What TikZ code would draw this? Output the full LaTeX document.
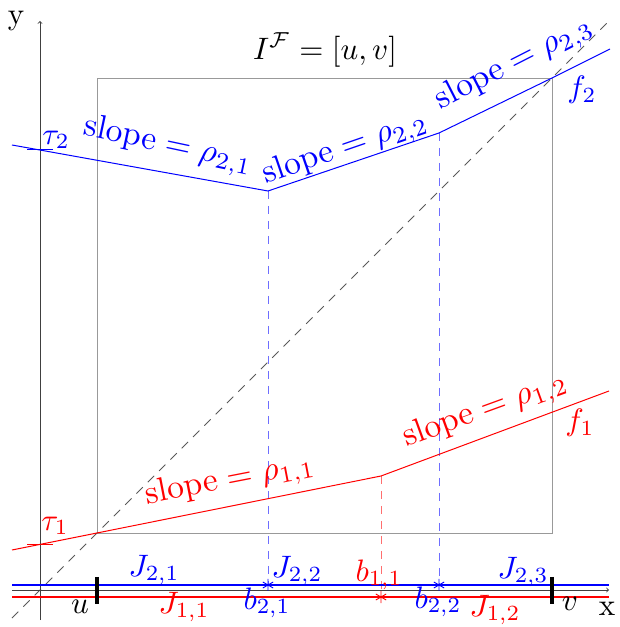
\documentclass[tikz,border=0pt]{standalone}
\usetikzlibrary{plotmarks}
\begin{document}
\begin{tikzpicture}[x=1pt,y=1pt,
  lbl/.style={scale=3.1, inner sep=0pt},
  slbl/.style={scale=3.35, inner sep=0pt},
  fline/.style={line width=1pt},
  drop/.style={line width=0.6pt, dash pattern=on 8pt off 7pt},
  star/.style={mark=asterisk, mark size=6pt, mark options={line width=0.9pt}},
  tickbar/.style={line width=4.5pt, black}]
\definecolor{dropblue}{RGB}{110,110,255}
\definecolor{dropred}{RGB}{255,110,110}
\useasboundingbox (-40,-37) rectangle (579,590);
% box and diagonal
\draw[gray!80, line width=0.9pt] (57,57) rectangle (512,512);
\draw[black!65, line width=0.8pt, dash pattern=on 9pt off 7pt] (-28,-28) -- (571,571);
% drops
\draw[drop, dropblue] (228,399) -- (228,5);
\draw[drop, dropblue] (399,457) -- (399,5);
\draw[drop, dropred] (341,114) -- (341,-7);
% axes
\draw[black!75, line width=0.9pt, ->] (-28,0) -- (569,0);
\draw[black!75, line width=0.9pt, ->] (0,-30) -- (0,569);
\node[lbl] (ylab) at (-24,569) {y};
\node[lbl] (xlab) at (567,-19) {x};
% interval lines
\draw[blue, line width=1.2pt] (-28,5) -- (569,5);
\draw[red, line width=1.2pt] (-28,-7) -- (569,-7);
\draw[tickbar] (57,13) -- (57,-14);
\draw[tickbar] (512,13) -- (512,-14);
\draw[blue] plot[star] coordinates {(228,5) (399,5)};
\draw[red] plot[star] coordinates {(341,-7)};
% functions
\draw[fline, red] (-28,40) -- (57,57) -- (341,114) -- (569,199);
\draw[fline, blue] (-28,445) -- (228,399) -- (399,457) -- (512,512) -- (570,541);
\draw[red, line width=1pt] (-13,45.6) -- (13,45.6);
\draw[blue, line width=1pt] (-13,440) -- (13,440);
% labels
\node[lbl] (title) at (285,540) {$I^{\mathcal{F}}=[u,v]$};
\node[lbl, blue] (t2) at (16,450) {$\tau_2$};
\node[slbl, blue, rotate=-12] (s21) at (128,444) {$\mathrm{slope}=\rho_{2,1}$};
\node[slbl, blue, rotate=19] (s22) at (305,441) {$\mathrm{slope}=\rho_{2,2}$};
\node[slbl, blue, rotate=27] (s23) at (474,526) {$\mathrm{slope}=\rho_{2,3}$};
\node[lbl, blue] (f2) at (542,500) {$f_2$};
\node[slbl, red, rotate=11] (s11) at (190,109) {$\mathrm{slope}=\rho_{1,1}$};
\node[slbl, red, rotate=20] (s12) at (445,179) {$\mathrm{slope}=\rho_{1,2}$};
\node[lbl, red] (f1) at (540,167) {$f_1$};
\node[lbl, red] (t1) at (15,64) {$\tau_1$};
\node[lbl, blue] (J21) at (114,20) {$J_{2,1}$};
\node[lbl] (u) at (40,-17) {$u$};
\node[lbl, red] (J11) at (144,-17) {$J_{1,1}$};
\node[lbl, blue] (b21) at (227,-13) {$b_{2,1}$};
\node[lbl, blue] (J22) at (257,19) {$J_{2,2}$};
\node[lbl, red] (b11) at (339,15) {$b_{1,1}$};
\node[lbl, blue] (b22) at (398,-12) {$b_{2,2}$};
\node[lbl, blue] (J23) at (483,18) {$J_{2,3}$};
\node[lbl, red] (J12) at (455,-20) {$J_{1,2}$};
\node[lbl] (v) at (530,-14) {$v$};
\end{tikzpicture}
\end{document}
